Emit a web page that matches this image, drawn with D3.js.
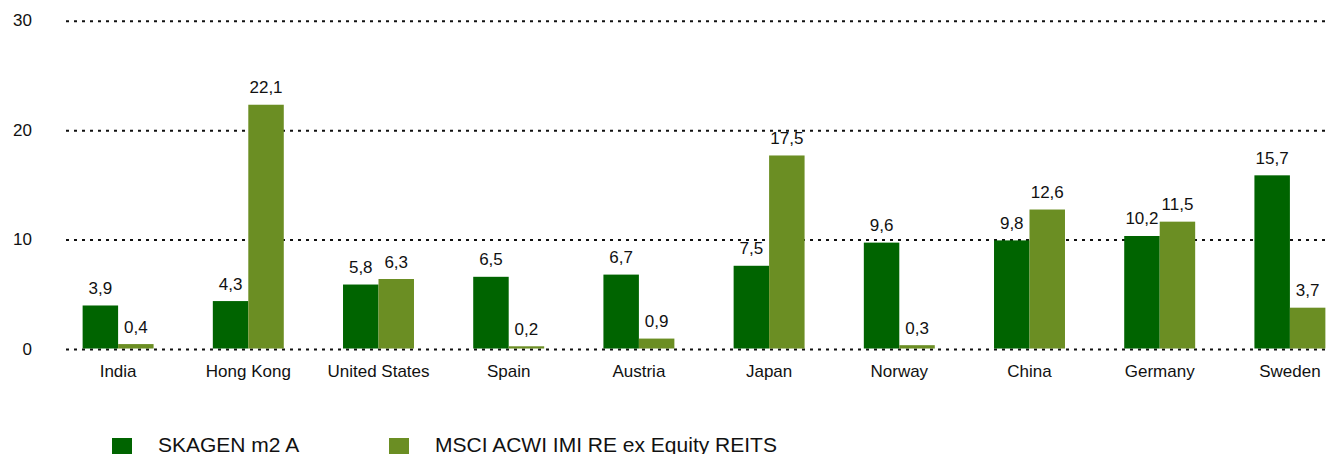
<!DOCTYPE html>
<html lang="en">

<head>
    <meta charset="UTF-8">
    <title>Country exposure</title>
    <style>
        body { margin: 0; background: #fff; overflow: hidden; }
        svg { display: block; font-family: "Liberation Sans", Arial, sans-serif; }
    </style>
</head>

<body>
    <div id="chart"></div>

    <script src="https://d3js.org/d3.v7.min.js"></script>
    <script>
        // data
        var countries = ["India", "Hong Kong", "United States", "Spain", "Austria", "Japan", "Norway", "China", "Germany", "Sweden"];
        var seriesNames = ["SKAGEN m2 A", "MSCI ACWI IMI RE ex Equity REITS"];
        var fund = [3.9, 4.3, 5.8, 6.5, 6.7, 7.5, 9.6, 9.8, 10.2, 15.7];
        var index = [0.4, 22.1, 6.3, 0.2, 0.9, 17.5, 0.3, 12.6, 11.5, 3.7];
        var yTicks = [0, 10, 20, 30];
        var colors = ["#006400", "#6b8e23"];

        var width = 1330,
            height = 454;

        var svg = d3.select("#chart").append("svg")
            .attr("width", width)
            .attr("height", height);

        // bars and gridlines sit on slightly different pixel grids in the original
        var y = d3.scaleLinear()
            .domain([0, 30])
            .range([348.5, 17.6]);

        var yGrid = d3.scaleLinear()
            .domain([0, 30])
            .range([349, 20.7]);

        var x0 = d3.scaleBand()
            .domain(countries)
            .range([53, 1355])
            .paddingInner(0.455)
            .paddingOuter(0.2275);

        var x1 = d3.scaleBand()
            .domain([0, 1])
            .range([0, x0.bandwidth()]);

        // gridlines
        var grid = svg.append("g")
            .attr("transform", "translate(66,0)")
            .call(d3.axisLeft(yGrid)
                .tickValues(yTicks)
                .tickSize(-(width - 66))
                .tickFormat(""));
        grid.select(".domain").remove();
        grid.selectAll(".tick line")
            .attr("stroke", "#111")
            .attr("stroke-width", 2)
            .attr("stroke-dasharray", "3,5");

        // y labels
        svg.append("g")
            .selectAll("text")
            .data(yTicks)
            .enter().append("text")
            .attr("x", 32)
            .attr("y", d => yGrid(d))
            .attr("dy", "0.33em")
            .attr("text-anchor", "end")
            .attr("font-size", 17)
            .attr("fill", "#111")
            .text(d => d);

        var rows = countries.map((c, i) => ({ country: c, values: [fund[i], index[i]] }));

        var groups = svg.append("g")
            .selectAll("g")
            .data(rows)
            .enter().append("g")
            .attr("transform", d => "translate(" + x0(d.country) + ",0)");

        groups.selectAll("rect")
            .data(d => d.values)
            .enter().append("rect")
            .attr("x", (d, i) => x1(i))
            .attr("width", x1.bandwidth())
            .attr("y", d => y(d))
            .attr("height", d => y(0) - y(d))
            .attr("fill", (d, i) => colors[i]);

        groups.selectAll("text.value")
            .data(d => d.values)
            .enter().append("text")
            .attr("class", "value")
            .attr("x", (d, i) => x1(i) + x1.bandwidth() / 2)
            .attr("y", d => y(d) - 11.5)
            .attr("text-anchor", "middle")
            .attr("font-size", 17)
            .attr("fill", "#111")
            .text(d => d.toFixed(1).replace(".", ","));

        // category labels
        var xAxis = svg.append("g")
            .attr("transform", "translate(0," + y(0) + ")")
            .call(d3.axisBottom(x0).tickSize(0).tickPadding(16));
        xAxis.select(".domain").remove();
        xAxis.selectAll("text")
            .attr("font-size", 17)
            .attr("font-family", "Liberation Sans, Arial, sans-serif")
            .attr("fill", "#111");

        // legend
        var legendX = [112, 389];
        var legend = svg.append("g")
            .selectAll("g")
            .data(seriesNames)
            .enter().append("g")
            .attr("transform", (d, i) => "translate(" + legendX[i] + ",438)");

        legend.append("rect")
            .attr("width", 20)
            .attr("height", 20)
            .attr("fill", (d, i) => colors[i]);

        legend.append("text")
            .attr("x", 46)
            .attr("y", 14)
            .attr("font-size", 21)
            .attr("fill", "#111")
            .text(d => d);
    </script>

</body>

</html>
